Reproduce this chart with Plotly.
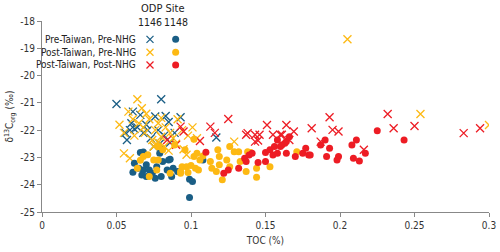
import plotly.graph_objects as go

# ODP 1146 (crosses)
pre_1146_x = [0.050, 0.080, 0.061, 0.066, 0.076, 0.083, 0.093, 0.059, 0.062, 0.057, 0.071, 0.056,
              0.117, 0.064, 0.068, 0.073, 0.078, 0.082, 0.086, 0.089, 0.075, 0.070, 0.085, 0.060, 0.079]
pre_1146_y = [-21.04, -20.87, -21.32, -21.44, -21.50, -21.48, -21.53, -22.00, -21.96, -22.36, -22.00, -22.10,
              -22.27, -21.90, -22.10, -22.30, -22.00, -22.20, -22.45, -22.10, -22.60, -21.80, -21.70, -21.75, -22.50]

post_1146_x = [0.064, 0.058, 0.067, 0.052, 0.065, 0.055, 0.069, 0.074, 0.078, 0.080, 0.055, 0.059,
               0.072, 0.076, 0.083, 0.086, 0.088, 0.091, 0.094, 0.098, 0.101, 0.075, 0.082, 0.085,
               0.097, 0.129, 0.205, 0.254, 0.300, 0.061, 0.070, 0.078, 0.090, 0.062, 0.068, 0.080,
               0.104, 0.095, 0.076]
post_1146_y = [-20.87, -21.32, -21.20, -21.80, -21.75, -22.10, -22.10, -22.36, -21.75, -22.24, -22.85, -23.03,
               -21.60, -22.00, -21.90, -22.10, -22.30, -21.60, -22.00, -22.20, -21.90, -22.60, -22.60, -22.75,
               -22.90, -22.42, -18.67, -21.41, -21.81, -21.60, -21.40, -22.45, -22.50, -22.20, -21.90, -21.55,
               -22.30, -22.70, -22.54]

nhg_1146_x = [0.084, 0.090, 0.093, 0.095, 0.106, 0.113, 0.116, 0.125, 0.137, 0.138, 0.143, 0.146,
              0.143, 0.145, 0.151, 0.155, 0.160, 0.164, 0.169, 0.161, 0.166, 0.181, 0.187, 0.193,
              0.195, 0.199, 0.216, 0.232, 0.236, 0.250, 0.283, 0.294]
nhg_1146_y = [-22.36, -22.54, -21.87, -22.05, -22.40, -21.87, -22.10, -21.59, -22.17, -22.11, -22.17, -22.17,
              -22.42, -22.38, -21.81, -22.17, -22.17, -21.81, -22.05, -22.17, -22.36, -21.93, -22.42, -21.53,
              -21.99, -22.05, -22.72, -21.41, -21.93, -21.85, -22.11, -21.93]

# ODP 1148 (dots)
pre_1148_x = [0.061, 0.062, 0.066, 0.068, 0.070, 0.068, 0.072, 0.074, 0.077, 0.070, 0.076, 0.080,
              0.084, 0.086, 0.087, 0.088, 0.099, 0.101, 0.099, 0.081, 0.079, 0.091, 0.067, 0.065,
              0.108, 0.085]
pre_1148_y = [-23.54, -23.21, -22.82, -22.80, -23.27, -23.46, -23.46, -23.58, -23.34, -23.70, -23.76, -23.70,
              -23.46, -23.07, -23.70, -23.40, -23.80, -23.88, -24.47, -23.15, -22.85, -23.52, -23.64, -23.40,
              -23.09, -23.09]

post_1148_x = [0.068, 0.071, 0.064, 0.072, 0.077, 0.078, 0.075, 0.078, 0.081, 0.089, 0.093, 0.086,
               0.094, 0.097, 0.100, 0.102, 0.104, 0.106, 0.108, 0.105, 0.102, 0.113, 0.114, 0.118,
               0.119, 0.119, 0.124, 0.126, 0.117, 0.121, 0.126, 0.129, 0.132, 0.133, 0.137, 0.138,
               0.140, 0.144, 0.144, 0.153, 0.171, 0.096, 0.103, 0.093, 0.098, 0.066]
post_1148_y = [-22.97, -22.90, -23.40, -23.70, -23.46, -23.09, -23.09, -22.60, -22.72, -22.54, -23.52, -23.58,
               -23.34, -23.34, -23.30, -22.97, -22.85, -23.09, -22.95, -23.46, -22.33, -23.15, -23.40, -22.72,
               -22.97, -23.27, -23.09, -22.60, -23.52, -23.82, -23.34, -22.79, -22.79, -23.15, -23.52, -22.79,
               -22.82, -23.40, -23.73, -23.34, -22.79, -22.72, -23.40, -23.58, -23.55, -23.10]

nhg_1148_x = [0.110, 0.122, 0.125, 0.132, 0.136, 0.137, 0.139, 0.141, 0.145, 0.150, 0.150, 0.153,
              0.156, 0.158, 0.155, 0.158, 0.160, 0.161, 0.163, 0.164, 0.166, 0.164, 0.170, 0.175,
              0.177, 0.179, 0.180, 0.187, 0.190, 0.193, 0.191, 0.199, 0.198, 0.208, 0.211, 0.209,
              0.213, 0.217, 0.225, 0.243]
nhg_1148_y = [-22.81, -23.58, -23.46, -23.40, -23.03, -23.15, -22.91, -22.85, -23.19, -23.15, -22.82, -22.72,
              -22.60, -22.36, -22.91, -22.85, -22.60, -22.54, -22.48, -22.42, -22.24, -22.85, -22.97, -22.85,
              -22.66, -22.91, -22.91, -22.54, -22.36, -22.66, -22.97, -22.97, -23.09, -22.54, -22.36, -23.03,
              -23.13, -22.85, -22.02, -22.36]

legend_labels = ["Pre-Taiwan, Pre-NHG", "Post-Taiwan, Pre-NHG", "Post-Taiwan, Post-NHG"]
site_labels = ["1146", "1148"]
x_ticks = [0, 0.05, 0.1, 0.15, 0.2, 0.25, 0.3]
x_tick_text = ["0", "0.05", "0.1", "0.15", "0.2", "0.25", "0.3"]
y_ticks = [-25, -24, -23, -22, -21, -20, -19, -18]
y_tick_text = ["-25", "-24", "-23", "-22", "-21", "-20", "-19", "-18"]

BLUE = "#1a5e85"
YELLOW = "#fdb913"
RED = "#ed1c24"
colors = [BLUE, YELLOW, RED]
FONT = "DejaVu Sans Condensed, Liberation Sans Narrow, Arial Narrow, Liberation Sans, Arial, sans-serif"

fig = go.Figure()
cross_sets = [(pre_1146_x, pre_1146_y), (post_1146_x, post_1146_y), (nhg_1146_x, nhg_1146_y)]
dot_sets = [(pre_1148_x, pre_1148_y), (post_1148_x, post_1148_y), (nhg_1148_x, nhg_1148_y)]

for (xs, ys), c in zip(cross_sets, colors):
    fig.add_trace(go.Scatter(x=xs, y=ys, mode="markers",
                             marker=dict(symbol="x-thin", size=8, line=dict(color=c, width=1.3)),
                             showlegend=False))
for (xs, ys), c in zip(dot_sets, colors):
    fig.add_trace(go.Scatter(x=xs, y=ys, mode="markers",
                             marker=dict(symbol="circle", size=7, color=c, line=dict(width=0)),
                             showlegend=False))

# Custom legend (paper coordinates)
row_y = [0.904, 0.836, 0.770]
x_cross = 0.2416
x_dot = 0.299
shapes = []
annotations = []
for yy, c, lab in zip(row_y, colors, legend_labels):
    shapes.append(dict(type="line", xref="paper", yref="paper", xsizemode="pixel", ysizemode="pixel",
                       xanchor=x_cross, yanchor=yy, x0=-3.5, x1=3.5, y0=-3.5, y1=3.5,
                       line=dict(color=c, width=1.3)))
    shapes.append(dict(type="line", xref="paper", yref="paper", xsizemode="pixel", ysizemode="pixel",
                       xanchor=x_cross, yanchor=yy, x0=-3.5, x1=3.5, y0=3.5, y1=-3.5,
                       line=dict(color=c, width=1.3)))
    shapes.append(dict(type="circle", xref="paper", yref="paper", xsizemode="pixel", ysizemode="pixel",
                       xanchor=x_dot, yanchor=yy, x0=-3.5, x1=3.5, y0=-3.5, y1=3.5,
                       fillcolor=c, line=dict(width=0)))
    annotations.append(dict(text=lab, xref="paper", yref="paper", x=0.2148, y=yy,
                            xanchor="right", yanchor="middle", showarrow=False,
                            font=dict(size=10, color="#222", family=FONT)))

annotations.append(dict(text="ODP Site", xref="paper", yref="paper", x=0.271, y=1.068,
                        xanchor="center", yanchor="middle", showarrow=False,
                        font=dict(size=11, color="#222", family=FONT)))
for xx, s in zip([x_cross, x_dot], site_labels):
    annotations.append(dict(text=s, xref="paper", yref="paper", x=xx, y=0.995,
                            xanchor="center", yanchor="middle", showarrow=False,
                            font=dict(size=10.5, color="#222", family=FONT)))

fig.update_layout(
    width=500, height=252,
    margin=dict(l=42, r=11, t=21, b=40, autoexpand=False),
    plot_bgcolor="white", paper_bgcolor="white",
    font=dict(family=FONT, size=10, color="#333"),
    shapes=shapes, annotations=annotations,
    xaxis=dict(range=[0, 0.3], tickvals=x_ticks, ticktext=x_tick_text, automargin=False,
               showgrid=False, zeroline=False, showline=True, linecolor="#888", linewidth=1,
               ticks="outside", ticklen=4, tickcolor="#888",
               title=dict(text="TOC (%)", standoff=6, font=dict(size=10))),
    yaxis=dict(range=[-25, -18], tickvals=y_ticks, ticktext=y_tick_text, automargin=False,
               showgrid=False, zeroline=False,
               showline=True, linecolor="#888", linewidth=1,
               ticks="outside", ticklen=4, tickcolor="#888",
               title=dict(text="δ<sup>13</sup>C<sub>org</sub> (‰)", standoff=4, font=dict(size=10))),
)

fig.write_html("out.html", config={"displayModeBar": False},
               post_script="document.body.style.margin='0px';")
